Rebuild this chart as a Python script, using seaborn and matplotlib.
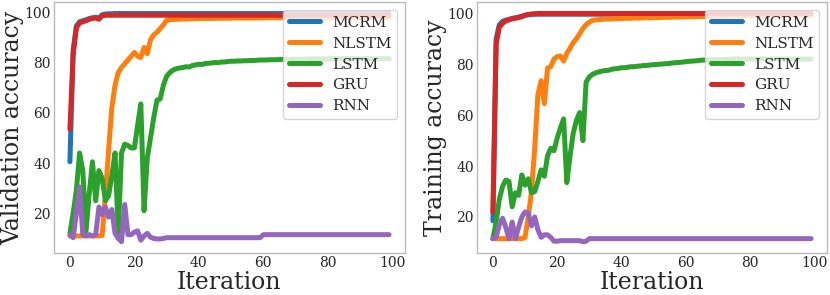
import numpy as np
import pandas as pd
import matplotlib
matplotlib.use("Agg")
import matplotlib.pyplot as plt
import seaborn as sns

iterations = list(range(100))
models = ["MCRM", "NLSTM", "LSTM", "GRU", "RNN"]
colors = ["#1f77b4", "#ff7f0e", "#2ca02c", "#d62728", "#9467bd"]

# ---------------- Validation accuracy ----------------
val_mcrm = [40.5, 85, 94.5, 96.2, 96.6, 97, 97.5, 97.8, 98, 97.6,
            99, 99.3, 99.4, 99.4, 99.5, 99.5, 99.5, 99.5, 99.5, 99.5,
            99.5, 99.5, 99.5, 99.5, 99.5, 99.5, 99.5, 99.5, 99.5, 99.5,
            99.5, 99.5, 99.5, 99.5, 99.5, 99.5, 99.5, 99.5, 99.5, 99.5,
            99.5, 99.5, 99.5, 99.5, 99.5, 99.5, 99.5, 99.5, 99.5, 99.5,
            99.5, 99.5, 99.5, 99.5, 99.5, 99.5, 99.5, 99.5, 99.5, 99.5,
            99.5, 99.5, 99.5, 99.5, 99.5, 99.5, 99.5, 99.5, 99.5, 99.5,
            99.5, 99.5, 99.5, 99.5, 99.5, 99.5, 99.5, 99.5, 99.5, 99.5,
            99.5, 99.5, 99.5, 99.5, 99.5, 99.5, 99.5, 99.5, 99.5, 99.5,
            99.5, 99.5, 99.5, 99.5, 99.5, 99.5, 99.5, 99.5, 99.5, 99.5]
val_nlstm = [11, 11, 11, 11, 11, 11, 11, 11, 11, 11,
             11.2, 27, 45, 62, 71, 76, 78, 79.5, 81, 82.5,
             84, 82.5, 82, 86, 83.5, 89, 91, 92, 93.5, 95,
             96.8, 97, 97.1, 97.2, 97.2, 97.3, 97.3, 97.4, 97.4, 97.4,
             97.5, 97.5, 97.5, 97.5, 97.5, 97.6, 97.6, 97.6, 97.6, 97.6,
             97.6, 97.7, 97.7, 97.7, 97.7, 97.7, 97.7, 97.7, 97.7, 97.7,
             97.7, 97.8, 97.8, 97.8, 97.8, 97.8, 97.8, 97.8, 97.8, 97.8,
             97.8, 97.8, 97.8, 97.8, 97.8, 97.8, 97.8, 97.8, 97.8, 97.8,
             97.9, 97.9, 97.9, 97.9, 97.9, 97.9, 97.9, 97.9, 97.9, 97.9,
             97.9, 97.9, 97.9, 97.9, 97.9, 97.9, 97.9, 97.9, 97.9, 97.9]
val_lstm = [12, 20, 29, 44, 37, 13, 28, 40.5, 25, 37,
            34, 25, 27, 35, 44, 12, 44, 47.5, 47, 46,
            46, 55, 63.5, 21, 42, 50, 58, 65, 65.5, 71,
            74.5, 76, 77, 77.5, 77.8, 78, 78.3, 78.2, 78.8, 79,
            79.3, 79.2, 79.6, 79.7, 79.8, 80, 79.9, 80.2, 80.2, 80.4,
            80.5, 80.5, 80.6, 80.6, 80.7, 80.7, 80.8, 80.8, 80.9, 81,
            81, 81, 81.1, 81.1, 81.1, 81.2, 81.2, 81.2, 81.2, 81.3,
            81.3, 81.3, 81.3, 81.3, 81.4, 81.4, 81.4, 81.4, 81.4, 81.4,
            81.4, 81.5, 81.5, 81.5, 81.5, 81.5, 81.5, 81.5, 81.5, 81.5,
            81.5, 81.5, 81.5, 81.5, 81.5, 81.5, 81.5, 81.5, 81.5, 81.5]
val_gru = [53.5, 83, 93.8, 95.8, 96.2, 96.6, 97.2, 97.5, 97.7, 97.2,
           98.6, 98.8, 98.8, 98.8, 98.8, 98.8, 98.8, 98.8, 98.8, 98.8,
           98.8, 98.8, 98.8, 98.8, 98.8, 98.8, 98.8, 98.8, 98.8, 98.8,
           98.8, 98.8, 98.8, 98.8, 98.8, 98.8, 98.8, 98.8, 98.8, 98.8,
           98.8, 98.8, 98.8, 98.8, 98.8, 98.8, 98.8, 98.8, 98.8, 98.8,
           98.8, 98.8, 98.8, 98.8, 98.8, 98.8, 98.8, 98.8, 98.8, 98.8,
           98.8, 98.8, 98.8, 98.8, 98.8, 98.8, 98.8, 98.8, 98.8, 98.8,
           98.8, 98.8, 98.8, 98.8, 98.8, 98.8, 98.8, 98.8, 98.8, 98.8,
           98.8, 98.8, 98.8, 98.8, 98.8, 98.8, 98.8, 98.8, 98.8, 98.8,
           98.8, 98.8, 98.8, 98.8, 98.8, 98.8, 98.8, 98.8, 98.8, 98.8]
val_rnn = [11.3, 10.3, 20, 30.5, 11.5, 11, 11.5, 11, 11.5, 22.5,
           19.5, 22.5, 18.5, 21.5, 12, 10, 8.7, 23.5, 11.5, 11.5,
           12.5, 13, 9.3, 11, 12, 10.5, 10, 9.8, 9.8, 10,
           10.3, 10.3, 10.3, 10.3, 10.3, 10.3, 10.3, 10.3, 10.3, 10.3,
           10.3, 10.3, 10.3, 10.3, 10.3, 10.3, 10.3, 10.3, 10.3, 10.3,
           10.3, 10.3, 10.3, 10.3, 10.3, 10.3, 10.3, 10.3, 10.3, 10.3,
           11.5, 11.5, 11.5, 11.5, 11.5, 11.5, 11.5, 11.5, 11.5, 11.5,
           11.5, 11.5, 11.5, 11.5, 11.5, 11.5, 11.5, 11.5, 11.5, 11.5,
           11.5, 11.5, 11.5, 11.5, 11.5, 11.5, 11.5, 11.5, 11.5, 11.5,
           11.5, 11.5, 11.5, 11.5, 11.5, 11.5, 11.5, 11.5, 11.5, 11.5]

# ---------------- Training accuracy ----------------
tr_mcrm = [18.5, 90, 95.5, 96.8, 97.3, 97.6, 98, 98.2, 98.5, 98.8,
           99.2, 99.4, 99.5, 99.6, 99.6, 99.6, 99.6, 99.6, 99.6, 99.6,
           99.6, 99.6, 99.6, 99.6, 99.6, 99.6, 99.6, 99.6, 99.6, 99.6,
           99.6, 99.6, 99.6, 99.6, 99.6, 99.6, 99.6, 99.6, 99.6, 99.6,
           99.6, 99.6, 99.6, 99.6, 99.6, 99.6, 99.6, 99.6, 99.6, 99.6,
           99.6, 99.6, 99.6, 99.6, 99.6, 99.6, 99.6, 99.6, 99.6, 99.6,
           99.6, 99.6, 99.6, 99.6, 99.6, 99.6, 99.6, 99.6, 99.6, 99.6,
           99.6, 99.6, 99.6, 99.6, 99.6, 99.6, 99.6, 99.6, 99.6, 99.6,
           99.6, 99.6, 99.6, 99.6, 99.6, 99.6, 99.6, 99.6, 99.6, 99.6,
           99.6, 99.6, 99.6, 99.6, 99.6, 99.6, 99.6, 99.6, 99.6, 99.6]
tr_nlstm = [11.5, 11.5, 11.5, 11.5, 11.5, 11.5, 11.5, 11.5, 11.5, 11.5,
            12, 20, 30, 47, 68, 73.5, 64.5, 78.5, 79, 82,
            83, 83.2, 81.2, 84.3, 86.3, 88.5, 90, 92, 94, 95.5,
            96.5, 97.2, 97.4, 97.5, 97.6, 97.7, 97.7, 97.8, 97.8, 97.9,
            97.9, 98, 98, 98, 98.1, 98.1, 98.1, 98.2, 98.2, 98.2,
            98.3, 98.3, 98.3, 98.4, 98.4, 98.4, 98.5, 98.5, 98.5, 98.5,
            98.6, 98.6, 98.6, 98.6, 98.7, 98.7, 98.7, 98.7, 98.8, 98.8,
            98.8, 98.8, 98.8, 98.9, 98.9, 98.9, 98.9, 98.9, 98.9, 99,
            99, 99, 99, 99, 99, 99, 99, 99.1, 99.1, 99.1,
            99.1, 99.1, 99.1, 99.1, 99.1, 99.2, 99.2, 99.2, 99.2, 99.2]
tr_lstm = [11.5, 18, 27, 32, 34.5, 34, 24, 29.5, 28.5, 36.5,
           32.5, 35, 29.5, 30, 34, 38.5, 36, 44, 47, 46,
           51, 55, 58.5, 33.5, 44, 53, 58, 61, 50, 73,
           75, 76, 76.6, 77, 77.3, 77.5, 77.6, 78, 78.2, 78.3,
           78.6, 78.6, 78.8, 79, 79, 79.2, 79.3, 79.5, 79.5, 79.7,
           79.8, 79.9, 80, 80.1, 80.2, 80.3, 80.5, 80.6, 80.7, 80.8,
           81, 81.1, 81.2, 81.3, 81.4, 81.6, 81.6, 81.7, 81.7, 81.8,
           81.8, 81.8, 81.9, 81.9, 81.9, 82, 82, 82, 82, 82,
           82, 82, 82, 82, 82, 82, 82, 82, 82, 82,
           82, 82, 82, 82, 82, 82, 82, 82, 82, 82]
tr_gru = [22, 88, 94.5, 96, 97, 97.4, 97.8, 98, 98.3, 98.6,
          99.2, 99.5, 99.7, 99.8, 99.9, 99.9, 99.9, 99.9, 99.9, 99.9,
          99.9, 99.9, 99.9, 99.9, 99.9, 99.9, 99.9, 99.9, 99.9, 99.9,
          99.9, 99.9, 99.9, 99.9, 99.9, 99.9, 99.9, 99.9, 99.9, 99.9,
          99.9, 99.9, 99.9, 99.9, 99.9, 99.9, 99.9, 99.9, 99.9, 99.9,
          99.9, 99.9, 99.9, 99.9, 99.9, 99.9, 99.9, 99.9, 99.9, 99.9,
          99.9, 99.9, 99.9, 99.9, 99.9, 99.9, 99.9, 99.9, 99.9, 99.9,
          99.9, 99.9, 99.9, 99.9, 99.9, 99.9, 99.9, 99.9, 99.9, 99.9,
          99.9, 99.9, 99.9, 99.9, 99.9, 99.9, 99.9, 99.9, 99.9, 99.9,
          99.9, 99.9, 99.9, 99.9, 99.9, 99.9, 99.9, 99.9, 99.9, 99.9]
tr_rnn = [11.5, 12, 17, 19.5, 16, 11.5, 18, 11.5, 16, 20,
          22, 21.5, 16.5, 20, 15, 12, 13, 13, 12, 10.5,
          10.5, 10.7, 10.7, 10.7, 10.7, 10.7, 10.7, 10.7, 10.3, 10.5,
          11.5, 11.5, 11.5, 11.5, 11.5, 11.5, 11.5, 11.5, 11.5, 11.5,
          11.5, 11.5, 11.5, 11.5, 11.5, 11.5, 11.5, 11.5, 11.5, 11.5,
          11.5, 11.5, 11.5, 11.5, 11.5, 11.5, 11.5, 11.5, 11.5, 11.5,
          11.5, 11.5, 11.5, 11.5, 11.5, 11.5, 11.5, 11.5, 11.5, 11.5,
          11.5, 11.5, 11.5, 11.5, 11.5, 11.5, 11.5, 11.5, 11.5, 11.5,
          11.5, 11.5, 11.5, 11.5, 11.5, 11.5, 11.5, 11.5, 11.5, 11.5,
          11.5, 11.5, 11.5, 11.5, 11.5, 11.5, 11.5, 11.5, 11.5, 11.5]

panels = [
    ("Validation accuracy", [val_mcrm, val_nlstm, val_lstm, val_gru, val_rnn], -0.1),
    ("Training accuracy", [tr_mcrm, tr_nlstm, tr_lstm, tr_gru, tr_rnn], -0.1),
]

sns.set_style("whitegrid")
plt.rcParams["font.family"] = ["DejaVu Serif"]
plt.rcParams["axes.edgecolor"] = "#bbbbbb"
plt.rcParams["axes.linewidth"] = 1.0

fig = plt.figure(figsize=(8.3, 2.95), dpi=100)
axes = [fig.add_axes([0.065, 0.142, 0.423, 0.851]),
        fig.add_axes([0.5747, 0.142, 0.4217, 0.851])]

for ax, (ylabel, series, ylab_x) in zip(axes, panels):
    frames = []
    for name, vals in zip(models, series):
        frames.append(pd.DataFrame({"Iteration": iterations, "acc": vals, "model": name}))
    df = pd.concat(frames, ignore_index=True)
    sns.lineplot(data=df, x="Iteration", y="acc", hue="model", hue_order=models,
                 palette=colors, linewidth=3.6, ax=ax, legend=True)
    ax.grid(False)
    ax.set_xlabel("Iteration", fontsize=17)
    ax.set_ylabel(ylabel, fontsize=17)
    ax.xaxis.label.set_verticalalignment("baseline")
    ax.xaxis.set_label_coords(0.5, -0.143)
    ax.yaxis.label.set_verticalalignment("baseline")
    ax.yaxis.set_label_coords(ylab_x, 0.5)
    ax.set_xticks([0, 20, 40, 60, 80, 100])
    ax.set_yticks([20, 40, 60, 80, 100])
    ax.tick_params(labelsize=10, pad=2.2, length=0)
    handles, labels = ax.get_legend_handles_labels()
    leg = ax.legend(handles, labels, loc="upper right", fontsize=11,
                    handlelength=2.0, labelspacing=0.45, frameon=True,
                    framealpha=0.8, edgecolor="0.8", fancybox=True)
    for line in leg.get_lines():
        line.set_linewidth(3.6)

fig.savefig("out.png", dpi=100)
